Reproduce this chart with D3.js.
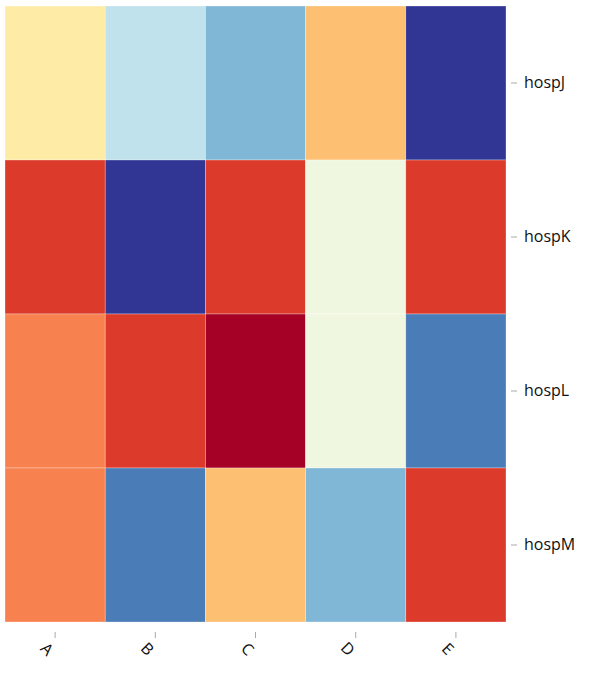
<!DOCTYPE html>
<html>
<head>
<meta charset="utf-8">
<script src="https://cdn.jsdelivr.net/npm/d3@7"></script>
<style>
  html, body { margin: 0; padding: 0; background: #fff; }
  svg { display: block; }
  text { font-family: "Open Sans", "Segoe UI", sans-serif; }
</style>
</head>
<body>
<svg id="chart" width="594" height="674"></svg>
<script>
// ---- data ----
const columns = ["A", "B", "C", "D", "E"];
const rows = ["hospJ", "hospK", "hospL", "hospM"];
// level per cell (0 = highest / dark red ... 9 = lowest / dark blue), row by row
const hospJ = [4, 6, 7, 3, 9];
const hospK = [1, 9, 1, 5, 1];
const hospL = [2, 1, 0, 5, 8];
const hospM = [2, 8, 3, 7, 1];
const levels = [0, 1, 2, 3, 4, 5, 6, 7, 8, 9];
const palette = ["#a50026", "#dc3a2b", "#f88150", "#fdbf71", "#feeba5",
                 "#f0f7e1", "#bfe2ed", "#80b6d6", "#4a7cb7", "#313695"];

(function () {
  const matrix = [hospJ, hospK, hospL, hospM];
  const cells = [];
  rows.forEach((r, i) => columns.forEach((c, j) => cells.push({ row: r, col: c, value: matrix[i][j] })));

  const svg = d3.select("#chart");
  const x0 = 5, x1 = 506, y0 = 6, y1 = 622;

  const x = d3.scaleBand().domain(columns).range([x0, x1]);
  const y = d3.scaleBand().domain(rows).range([y0, y1]);
  const color = d3.scaleOrdinal().domain(levels).range(palette);

  svg.append("g").selectAll("rect")
    .data(cells)
    .join("rect")
    .attr("x", d => x(d.col))
    .attr("y", d => y(d.row))
    .attr("width", x.bandwidth())
    .attr("height", y.bandwidth())
    .attr("fill", d => color(d.value))
    .attr("stroke", "#ffffff")
    .attr("stroke-opacity", 0.5)
    .attr("stroke-width", 0.6);

  const yAxis = svg.append("g")
    .attr("transform", "translate(511,0)")
    .call(d3.axisRight(y).tickSize(6).tickPadding(7));
  yAxis.select(".domain").remove();
  yAxis.selectAll(".tick line").attr("stroke", "#aaa");
  yAxis.selectAll(".tick text")
    .attr("fill", "#111")
    .style("font-size", "16px");

  const xAxis = svg.append("g")
    .attr("transform", "translate(0,632)")
    .call(d3.axisBottom(x).tickSize(6));
  xAxis.select(".domain").remove();
  xAxis.selectAll(".tick line").attr("stroke", "#aaa");
  xAxis.selectAll(".tick text")
    .attr("fill", "#111")
    .style("font-size", "16px")
    .attr("text-anchor", "middle")
    .attr("y", 0)
    .attr("dy", "0.35em")
    .attr("transform", "translate(-8,17) rotate(45)");
})();
</script>
</body>
</html>
